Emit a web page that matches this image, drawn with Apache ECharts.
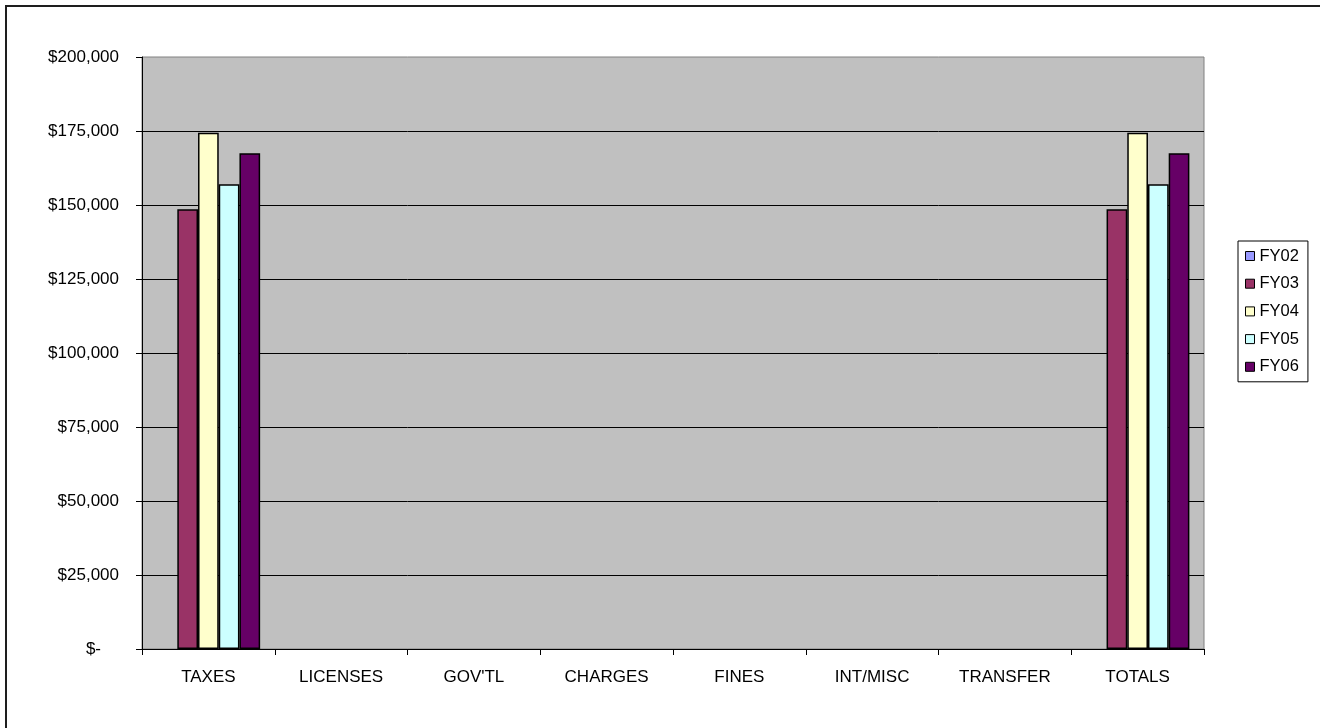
<!DOCTYPE html>
<html>
<head>
<meta charset="utf-8">
<title>Revenue by Source FY02–FY06</title>
<script src="https://cdn.jsdelivr.net/npm/echarts@6/dist/echarts.min.js"></script>
<style>
  html, body { margin: 0; padding: 0; background: #fff; }
  #chart { width: 1320px; height: 728px; }
</style>
</head>
<body>
<div id="chart"></div>
<script>
// Revenue categories along the x axis
const categories = ['TAXES', 'LICENSES', "GOV'TL", 'CHARGES', 'FINES', 'INT/MISC', 'TRANSFER', 'TOTALS'];

// Fiscal-year series (dollars)
const seriesNames = ['FY02', 'FY03', 'FY04', 'FY05', 'FY06'];
const fy02 = [0, 0, 0, 0, 0, 0, 0, 0];
const fy03 = [148600, 0, 0, 0, 0, 0, 0, 148600];
const fy04 = [174400, 0, 0, 0, 0, 0, 0, 174400];
const fy05 = [157000, 0, 0, 0, 0, 0, 0, 157000];
const fy06 = [167500, 0, 0, 0, 0, 0, 0, 167500];
const seriesColors = ['#9999FF', '#993366', '#FFFFCC', '#CCFFFF', '#660066'];

// Value axis ticks
const yMin = 0, yMax = 200000, yStep = 25000;

const font = 'Arial, "Liberation Sans", sans-serif';
const seriesData = [fy02, fy03, fy04, fy05, fy06];

function money(v) {
  if (v === 0) return '{z|$-}';
  return '$' + v.toLocaleString('en-US');
}

// zero-height bars get no outline so they don't thicken the baseline
function barItems(values) {
  return values.map(v => v === 0 ? { value: v, itemStyle: { borderWidth: 0 } } : v);
}

const chart = echarts.init(document.getElementById('chart'), null, { renderer: 'canvas' });

chart.setOption({
  backgroundColor: '#ffffff',
  animation: false,
  textStyle: { fontFamily: font, color: '#000' },
  graphic: [{
    type: 'rect',
    silent: true,
    z: 100,
    shape: { x: 6, y: 6, width: 1340, height: 760 },
    style: { fill: 'none', stroke: '#1e1e1e', lineWidth: 2 }
  }],
  grid: {
    left: 142, right: 116, top: 57, bottom: 79,
    show: true,
    backgroundColor: '#C0C0C0',
    borderColor: '#808080',
    borderWidth: 1
  },
  legend: {
    orient: 'vertical',
    left: 1238, top: 241,
    data: seriesNames,
    icon: 'rect',
    itemWidth: 9, itemHeight: 9,
    itemGap: 9.7,
    padding: [6, 9, 6, 7],
    borderColor: '#000', borderWidth: 1,
    backgroundColor: '#fff',
    itemStyle: { borderColor: '#000', borderWidth: 1 },
    textStyle: { fontFamily: font, fontSize: 16.5, color: '#000', lineHeight: 18 }
  },
  xAxis: {
    type: 'category',
    data: categories,
    axisLine: { show: true, lineStyle: { color: '#000', width: 1 } },
    axisTick: { show: true, length: 6, interval: 0, lineStyle: { color: '#000' } },
    axisLabel: { fontFamily: font, fontSize: 17, color: '#000', margin: 20, interval: 0 },
    splitLine: { show: false }
  },
  yAxis: {
    type: 'value',
    min: yMin, max: yMax, interval: yStep,
    axisLine: { show: true, lineStyle: { color: '#000', width: 1 } },
    axisTick: { show: true, length: 6, lineStyle: { color: '#000' } },
    axisLabel: {
      fontFamily: font, fontSize: 17, color: '#000', margin: 23,
      formatter: money,
      rich: { z: { fontFamily: font, fontSize: 17, color: '#000', padding: [0, 18, 0, 0] } }
    },
    splitLine: { show: true, showMaxLine: false, lineStyle: { color: '#000', width: 1 } }
  },
  series: seriesNames.map((name, i) => ({
    name: name,
    type: 'bar',
    data: barItems(seriesData[i]),
    barGap: '0%',
    barCategoryGap: '22%',
    itemStyle: { color: seriesColors[i], borderColor: '#000', borderWidth: 1.5 }
  }))
});
</script>
</body>
</html>
